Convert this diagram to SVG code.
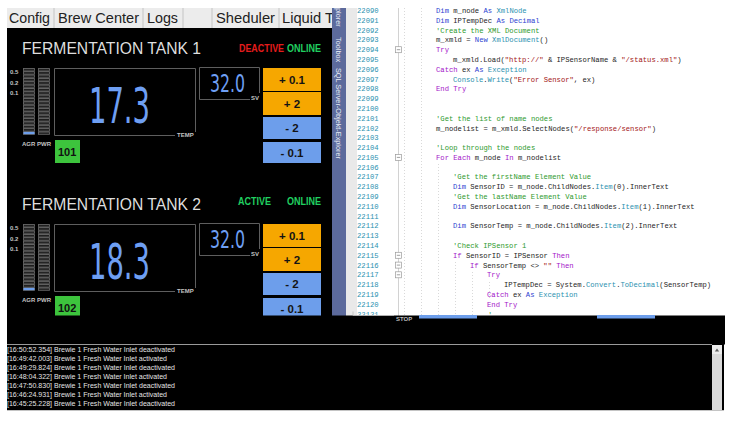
<svg xmlns="http://www.w3.org/2000/svg" width="750" height="425" viewBox="0 0 750 425">
<style>
.tab{font-family:"Liberation Sans",Arial,sans-serif;font-size:14px;fill:#222}
.hdr{font-family:"Liberation Sans",Arial,sans-serif;font-size:16px;fill:#dedede}
.st{font-family:"Liberation Sans",Arial,sans-serif;font-size:10px;font-weight:bold}
.red{fill:#e51c1c}.grn{fill:#20d060}
.ml{font-family:"Liberation Sans",Arial,sans-serif;font-size:6px;font-weight:bold;fill:#c4c4c4}
.frame{fill:none;stroke:#5e5e5e;stroke-width:1}
.btn{font-family:"Liberation Sans",Arial,sans-serif;font-size:11.5px;font-weight:bold;fill:#141414;text-anchor:middle}
.dig{font-family:"Liberation Sans Narrow","DejaVu Sans Condensed",sans-serif;fill:#6e9ff3}
.idt{font-family:"Liberation Sans",Arial,sans-serif;font-size:11px;font-weight:bold;fill:#111}
.code{font-family:"Liberation Mono","DejaVu Sans Mono",monospace;font-size:7.2px;fill:#1e1e1e}
.ln{fill:#2b91af}
.k{fill:#2c3fd1}.c{fill:#a314c9}.t{fill:#2b91af}.s{fill:#a31515}.m{fill:#2e9a2e}
.side{font-family:"Liberation Sans",Arial,sans-serif;font-size:7.3px;fill:#e8ecf5}
.log{font-family:"Liberation Sans",Arial,sans-serif;font-size:6.6px;fill:#e4e4e4}
.guide{stroke:#cfcfcf;stroke-width:0.8;stroke-dasharray:1 2}
.fold{fill:#fff;stroke:#9a9a9a;stroke-width:0.7}
</style>
<defs>
<pattern id="seg" x="23" y="68" width="15" height="3.35" patternUnits="userSpaceOnUse">
<rect x="0.5" y="0.5" width="11" height="2.2" fill="#151515" stroke="#707070" stroke-width="0.8"/>
</pattern>
<clipPath id="codeclip"><rect x="346" y="8" width="404" height="308"/></clipPath>
<g id="tankbase">
<text class="ml" x="10" y="73.8">0.5</text>
<text class="ml" x="10" y="84.8">0.2</text>
<text class="ml" x="10" y="95.3">0.1</text>
<rect x="23" y="68" width="27" height="67" fill="url(#seg)"/>
<rect x="23.5" y="131.9" width="11" height="2.3" fill="#6d9eeb"/>
<text class="ml" x="22" y="145.5">AGR PWR</text>
<path class="frame" d="M54.5,68.5 H195.5 V132 M54.5,68.5 V135.5 H175"/>
<text class="ml" x="177" y="137">TEMP</text>
<path class="frame" d="M199.5,67.5 H259.5 V93 M199.5,67.5 V99.5 H250"/>
<text class="ml" x="251" y="100">SV</text>
<rect x="263" y="68" width="58" height="23" fill="#f6a700"/>
<rect x="263" y="92" width="58" height="23" fill="#f6a700"/>
<rect x="263" y="117" width="58" height="22" fill="#6d9eeb"/>
<rect x="263" y="142" width="58" height="21" fill="#6d9eeb"/>
<text class="btn" x="292" y="83.5">+ 0.1</text>
<text class="btn" x="292" y="107.5">+ 2</text>
<text class="btn" x="292" y="132">- 2</text>
<text class="btn" x="292" y="156.5">- 0.1</text>
<rect x="55" y="140" width="25" height="23" fill="#3dc43d"/>
</g>
</defs>

<rect width="750" height="425" fill="#fff"/>

<g id="tabs">
<rect x="7" y="8" width="326" height="20" fill="#ececec"/>
<path d="M54,8V28M143,8V28M183,8V28M212,8V28M279,8V28" stroke="#c4c4c4" stroke-width="1"/>
<text class="tab" x="9" y="23" textLength="41" lengthAdjust="spacingAndGlyphs">Config</text>
<text class="tab" x="58" y="23" textLength="81" lengthAdjust="spacingAndGlyphs">Brew Center</text>
<text class="tab" x="147" y="23" textLength="31" lengthAdjust="spacingAndGlyphs">Logs</text>
<text class="tab" x="216" y="23" textLength="59" lengthAdjust="spacingAndGlyphs">Sheduler</text>
<text class="tab" x="282" y="23" textLength="52" lengthAdjust="spacingAndGlyphs">Liquid T</text>
</g>

<rect x="7" y="28" width="326" height="290" fill="#000"/>

<g id="tank1">
<use href="#tankbase"/>
<text class="hdr" x="22" y="54" textLength="179" lengthAdjust="spacingAndGlyphs">FERMENTATION TANK 1</text>
<text class="st red" x="239" y="51.7" textLength="45" lengthAdjust="spacingAndGlyphs">DEACTIVE</text>
<text class="st grn" x="287" y="51.7" textLength="34" lengthAdjust="spacingAndGlyphs">ONLINE</text>
<text class="dig" x="89" y="123" font-size="50" textLength="61" lengthAdjust="spacingAndGlyphs">17.3</text>
<text class="dig" x="210" y="92" font-size="24" textLength="35" lengthAdjust="spacingAndGlyphs">32.0</text>
<text class="idt" x="58" y="155.5">101</text>
</g>

<g id="tank2">
<use href="#tankbase" transform="translate(0,156)"/>
<text class="hdr" x="22" y="210" textLength="179" lengthAdjust="spacingAndGlyphs">FERMENTATION TANK 2</text>
<text class="st grn" x="238" y="205" textLength="33" lengthAdjust="spacingAndGlyphs">ACTIVE</text>
<text class="st grn" x="287" y="205" textLength="34" lengthAdjust="spacingAndGlyphs">ONLINE</text>
<text class="dig" x="89" y="279" font-size="50" textLength="61" lengthAdjust="spacingAndGlyphs">18.3</text>
<text class="dig" x="210" y="248" font-size="24" textLength="35" lengthAdjust="spacingAndGlyphs">32.0</text>
<text class="idt" x="58" y="311.5">102</text>
</g>

<g id="editor">
<rect x="332" y="8" width="14" height="308" fill="#5c6a9c"/>
<text class="side" x="336" y="8" transform="rotate(90 336 8)">plorer</text>
<text class="side" x="336" y="37" transform="rotate(90 336 37)">Toolbox</text>
<text class="side" x="336" y="68" transform="rotate(90 336 68)">SQL Server-Objekt-Explorer</text>
<rect x="346" y="8" width="11" height="308" fill="#e9e9e9"/>
<g clip-path="url(#codeclip)">
<line x1="398.5" y1="8" x2="398.5" y2="316" stroke="#c6c6c6" stroke-width="0.8"/>
<line class="guide" x1="404.5" y1="8" x2="404.5" y2="316"/>
<line class="guide" x1="421.5" y1="8" x2="421.5" y2="316"/>
<line class="guide" x1="438.5" y1="164" x2="438.5" y2="316"/>
<line class="guide" x1="455.5" y1="262" x2="455.5" y2="316"/>
<line class="guide" x1="472.5" y1="272" x2="472.5" y2="316"/>
<line class="guide" x1="489.5" y1="282" x2="489.5" y2="300"/>
<g class="code ln">
<text x="357" y="13">22090</text>
<text x="357" y="22.8">22091</text>
<text x="357" y="32.6">22092</text>
<text x="357" y="42.4">22093</text>
<text x="357" y="52.2">22094</text>
<text x="357" y="62">22095</text>
<text x="357" y="71.7">22096</text>
<text x="357" y="81.5">22097</text>
<text x="357" y="91.3">22098</text>
<text x="357" y="101.1">22099</text>
<text x="357" y="110.9">22100</text>
<text x="357" y="120.7">22101</text>
<text x="357" y="130.5">22102</text>
<text x="357" y="140.3">22103</text>
<text x="357" y="150.1">22104</text>
<text x="357" y="159.9">22105</text>
<text x="357" y="169.6">22106</text>
<text x="357" y="179.4">22107</text>
<text x="357" y="189.2">22108</text>
<text x="357" y="199">22109</text>
<text x="357" y="208.8">22110</text>
<text x="357" y="218.6">22111</text>
<text x="357" y="228.4">22112</text>
<text x="357" y="238.2">22113</text>
<text x="357" y="248">22114</text>
<text x="357" y="257.8">22115</text>
<text x="357" y="267.6">22116</text>
<text x="357" y="277.3">22117</text>
<text x="357" y="287.1">22118</text>
<text x="357" y="296.9">22119</text>
<text x="357" y="306.7">22120</text>
<text x="357" y="316.5">22121</text>
</g>
<g id="folds">
<rect class="fold" x="395.5" y="46.7" width="6" height="6"/><path d="M396.8,49.7H400.2" stroke="#777" stroke-width="0.7"/>
<rect class="fold" x="395.5" y="154.4" width="6" height="6"/><path d="M396.8,157.4H400.2" stroke="#777" stroke-width="0.7"/>
<rect class="fold" x="395.5" y="252.3" width="6" height="6"/><path d="M396.8,255.3H400.2" stroke="#777" stroke-width="0.7"/>
<rect class="fold" x="395.5" y="262.1" width="6" height="6"/><path d="M396.8,265.1H400.2" stroke="#777" stroke-width="0.7"/>
<rect class="fold" x="395.5" y="271.8" width="6" height="6"/><path d="M396.8,274.8H400.2" stroke="#777" stroke-width="0.7"/>
</g>
<g class="code">
<text x="436" y="13"><tspan class="k">Dim</tspan> m_node <tspan class="k">As</tspan> <tspan class="t">XmlNode</tspan></text>
<text x="436" y="22.8"><tspan class="k">Dim</tspan> IPTempDec <tspan class="k">As</tspan> <tspan class="k">Decimal</tspan></text>
<text x="436" y="32.6" class="m">'Create the XML Document</text>
<text x="436" y="42.4">m_xmld = <tspan class="k">New</tspan> <tspan class="t">XmlDocument</tspan>()</text>
<text x="436" y="52.2" class="c">Try</text>
<text x="453" y="62">m_xmld.Load(<tspan class="s">"http://"</tspan> &amp; IPSensorName &amp; <tspan class="s">"/status.xml"</tspan>)</text>
<text x="436" y="71.7"><tspan class="c">Catch</tspan> ex <tspan class="k">As</tspan> <tspan class="t">Exception</tspan></text>
<text x="453" y="81.5"><tspan class="t">Console</tspan>.<tspan class="t">Write</tspan>(<tspan class="s">"Error Sensor"</tspan>, ex)</text>
<text x="436" y="91.3" class="c">End Try</text>
<text x="436" y="120.7" class="m">'Get the list of name nodes</text>
<text x="436" y="130.5">m_nodelist = m_xmld.SelectNodes(<tspan class="s">"/response/sensor"</tspan>)</text>
<text x="436" y="150.1" class="m">'Loop through the nodes</text>
<text x="436" y="159.9"><tspan class="c">For Each</tspan> m_node <tspan class="c">In</tspan> m_nodelist</text>
<text x="453" y="179.4" class="m">'Get the firstName Element Value</text>
<text x="453" y="189.2"><tspan class="k">Dim</tspan> SensorID = m_node.ChildNodes.<tspan class="t">Item</tspan>(0).InnerText</text>
<text x="453" y="199" class="m">'Get the lastName Element Value</text>
<text x="453" y="208.8"><tspan class="k">Dim</tspan> SensorLocation = m_node.ChildNodes.<tspan class="t">Item</tspan>(1).InnerText</text>
<text x="453" y="228.4"><tspan class="k">Dim</tspan> SensorTemp = m_node.ChildNodes.<tspan class="t">Item</tspan>(2).InnerText</text>
<text x="453" y="248" class="m">'Check IPSensor 1</text>
<text x="453" y="257.8"><tspan class="c">If</tspan> SensorID = IPSensor <tspan class="c">Then</tspan></text>
<text x="470" y="267.6"><tspan class="c">If</tspan> SensorTemp &lt;&gt; <tspan class="s">""</tspan> <tspan class="c">Then</tspan></text>
<text x="487" y="277.3" class="c">Try</text>
<text x="504" y="287.1">IPTempDec = System.<tspan class="t">Convert</tspan>.<tspan class="t">ToDecimal</tspan>(SensorTemp)</text>
<text x="487" y="296.9"><tspan class="c">Catch</tspan> ex <tspan class="k">As</tspan> <tspan class="t">Exception</tspan></text>
<text x="487" y="306.7" class="c">End Try</text>
<text x="488" y="316.5" class="m">'</text>
</g>
</g>
</g>

<g id="bottom">
<rect x="7" y="315.5" width="718" height="29" fill="#000"/>
<path d="M353,311.5V315.5H394" fill="none" stroke="#bdbdbd" stroke-width="0.8"/>
<text x="396" y="320.5" font-family="Liberation Sans, Arial, sans-serif" font-size="6" font-weight="bold" fill="#bdbdbd">STOP</text>
<rect x="419" y="315" width="58" height="3.5" fill="#6d9eeb"/>
<rect x="597" y="315" width="58" height="3.5" fill="#6d9eeb"/>
</g>

<g id="log">
<rect x="7" y="344" width="717" height="66.5" fill="#000"/>
<line x1="7" y1="344.5" x2="712" y2="344.5" stroke="#9a9a9a" stroke-width="1"/>
<line x1="7" y1="410.5" x2="724" y2="410.5" stroke="#c4c4c4" stroke-width="1"/>
<rect x="712" y="345" width="10" height="65" fill="#d9d9d9"/>
<rect x="712" y="345" width="10" height="9" fill="#ececec"/>
<path d="M714.8,351.5L717,348.5L719.2,351.5Z" fill="#606060"/>
<text class="log" x="7" y="352.4" textLength="168" lengthAdjust="spacingAndGlyphs">[16:50:52.354] Brewie 1 Fresh Water Inlet deactivated</text>
<text class="log" x="7" y="361.3" textLength="160" lengthAdjust="spacingAndGlyphs">[16:49:42.003] Brewie 1 Fresh Water Inlet activated</text>
<text class="log" x="7" y="370.2" textLength="168" lengthAdjust="spacingAndGlyphs">[16:49:29.824] Brewie 1 Fresh Water Inlet deactivated</text>
<text class="log" x="7" y="379.1" textLength="160" lengthAdjust="spacingAndGlyphs">[16:48:04.322] Brewie 1 Fresh Water Inlet activated</text>
<text class="log" x="7" y="388" textLength="168" lengthAdjust="spacingAndGlyphs">[16:47:50.830] Brewie 1 Fresh Water Inlet deactivated</text>
<text class="log" x="7" y="396.9" textLength="160" lengthAdjust="spacingAndGlyphs">[16:46:24.931] Brewie 1 Fresh Water Inlet activated</text>
<text class="log" x="7" y="405.8" textLength="168" lengthAdjust="spacingAndGlyphs">[16:45:25.228] Brewie 1 Fresh Water Inlet deactivated</text>
</g>
</svg>
